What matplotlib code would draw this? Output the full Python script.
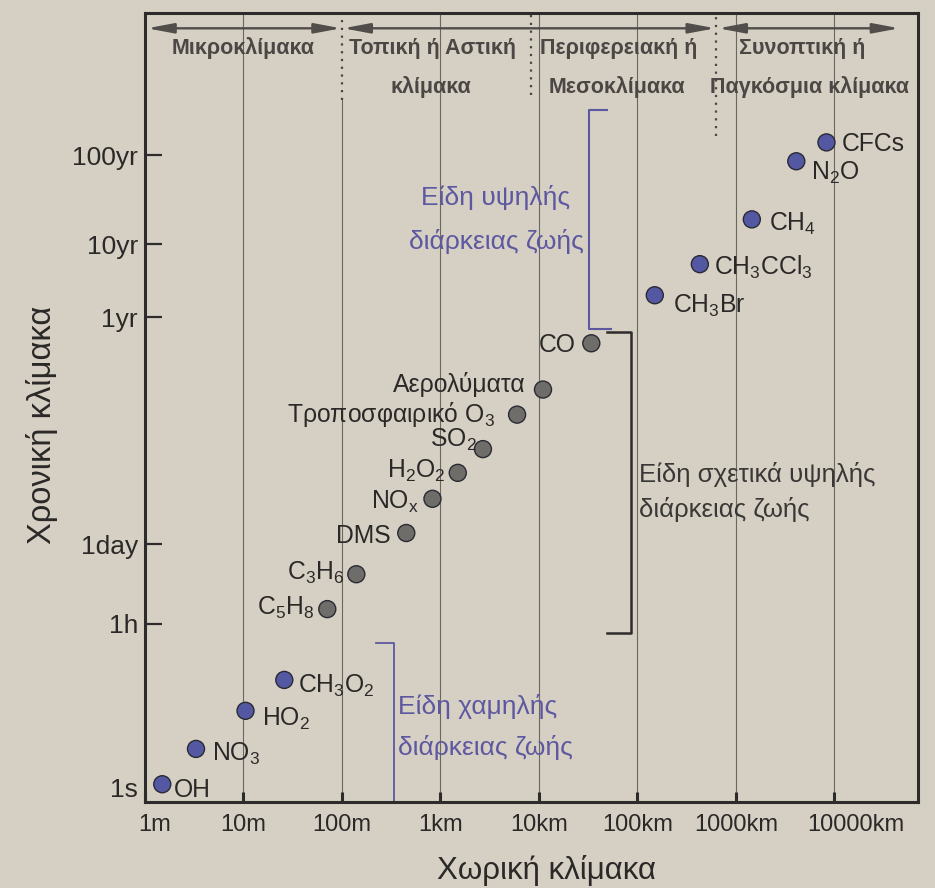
import numpy as np
import matplotlib.pyplot as plt
from matplotlib.transforms import ScaledTranslation

plt.rcParams['font.family'] = ['Liberation Sans', 'DejaVu Sans']
plt.rcParams['mathtext.default'] = 'regular'

# Species: spatial scale (m) and lifetime (s)
species = ['OH', 'NO$_3$', 'HO$_2$', 'CH$_3$O$_2$',
           'C$_5$H$_8$', 'C$_3$H$_6$', 'DMS', 'NO$_x$', 'H$_2$O$_2$', 'SO$_2$',
           'Τροποσφαιρικό O$_3$', 'Αερολύματα', 'CO',
           'CH$_3$Br', 'CH$_3$CCl$_3$', 'CH$_4$', 'N$_2$O', 'CFCs']
space_m = [1.5, 3.3, 10.5, 26,
           71, 140, 450, 830, 1500, 2700,
           6000, 11000, 34000,
           1.5e5, 4.3e5, 1.45e6, 4.1e6, 8.3e6]
life_s = [1.2, 7.0, 47, 220,
          6500, 2.6e4, 1.15e5, 2.8e5, 5.5e5, 1.02e6,
          2.5e6, 4.8e6, 1.6e7,
          6.3e7, 1.68e8, 6.0e8, 2.7e9, 4.4e9]
group = ['short'] * 4 + ['mid'] * 9 + ['long'] * 5

# label placement (pixels from the point) and alignment
label_dx = [12, 16, 16, 14, -13, -12, -16, -14, -12, -6, -22, -17, -16, 18, 14, 17, 15, 15]
label_dy = [-13, -12, -15, -13, -6, -6, -10, -10, -5, 2, -7, -2, -9, -18, -11, -11, -19, -9]

x_ticks = [1, 10, 100, 1e3, 1e4, 1e5, 1e6, 1e7]
x_labels = ['1m', '10m', '100m', '1km', '10km', '100km', '1000km', '10000km']

# time axis is schematic: ticks are not evenly spaced in log time
y_ticks = [1, 3600, 86400, 3.156e7, 3.156e8, 3.156e9]
y_labels = ['1s', '1h', '1day', '1yr', '10yr', '100yr']
y_tick_pos = [14, 178, 258, 485, 558, 647]  # drawing distance from bottom

tl = np.log10(y_ticks)
lo_slope = (y_tick_pos[1] - y_tick_pos[0]) / (tl[1] - tl[0])
hi_slope = (y_tick_pos[-1] - y_tick_pos[-2]) / (tl[-1] - tl[-2])
anc_log = np.concatenate([[tl[0] - 20], tl, [tl[-1] + 20]])
anc_pos = np.concatenate([[y_tick_pos[0] - 20 * lo_slope], y_tick_pos,
                          [y_tick_pos[-1] + 20 * hi_slope]])


def forward(v):
    v = np.clip(np.asarray(v, dtype=float), 1e-30, None)
    return np.interp(np.log10(v), anc_log, anc_pos)


def inverse(p):
    return 10 ** np.interp(p, anc_pos, anc_log)


paper = '#d6cfc4'
ink = '#2e2c2a'
blue = '#5458a2'
grey = '#6f6d69'
purple = '#5d58a0'

fig = plt.figure(figsize=(9.35, 8.88), dpi=100, facecolor=paper)
ax = fig.add_axes([0.155, 0.097, 0.827, 0.888], facecolor=paper)

ax.set_xscale('log')
ax.set_yscale('function', functions=(forward, inverse))
ax.set_xlim(1, 10 ** 7.85)
ax.set_ylim(inverse(0), inverse(789))

# vertical grid
for xt in x_ticks[1:]:
    top = 0.89 if xt == 100 else 1
    ax.axvline(xt, ymax=top, color='#6a6660', lw=0.8, zorder=0)

# scale separators (dotted) and range arrows
sep_x = [100, 10 ** 3.92, 10 ** 5.8]
sep_top = [0.89, 0.896, 0.845]
for xs, yb in zip(sep_x, sep_top):
    ax.axvline(xs, ymin=yb, ymax=1, color='#4a4643', lw=1.6, ls=(0, (1, 2.5)), zorder=1)

xa = ax.get_xaxis_transform()
arrows = [(1.05, 98), (103, 10 ** 5.79), (10 ** 5.82, 10 ** 7.66)]
for x1, x2 in arrows:
    ax.annotate('', xy=(x2, 0.981), xytext=(x1, 0.981), xycoords=xa, textcoords=xa,
                arrowprops=dict(arrowstyle='<|-|>,head_length=1.6,head_width=0.3',
                                color='#504d4a', lw=1.7, shrinkA=0, shrinkB=0))

region_style = dict(xycoords='axes fraction', ha='center', va='center',
                    fontsize=15.5, fontweight='bold', color='#4b4744')
ax.annotate('Μικροκλίμακα', (0.127, 0.956), **region_style)
ax.annotate('Τοπική ή Αστική', (0.372, 0.956), **region_style)
ax.annotate('κλίμακα', (0.370, 0.907), **region_style)
ax.annotate('Περιφερειακή ή', (0.613, 0.956), **region_style)
ax.annotate('Μεσοκλίμακα', (0.610, 0.907), **region_style)
ax.annotate('Συνοπτική ή', (0.850, 0.956), **region_style)
ax.annotate('Παγκόσμια κλίμακα', (0.860, 0.907), **region_style)

# lifetime brackets
af = ax.transAxes
ax.plot([0.598, 0.5746, 0.5746, 0.603], [0.877, 0.877, 0.5995, 0.5995],
        color=purple, lw=1.5, transform=af)
ax.plot([0.598, 0.629, 0.629, 0.598], [0.5957, 0.5957, 0.2142, 0.2142],
        color=ink, lw=1.8, transform=af)
ax.plot([0.2983, 0.3217, 0.3217], [0.2015, 0.2015, 0.0],
        color=purple, lw=1.3, transform=af)

ax.text(0.454, 0.739, 'Είδη υψηλής\nδιάρκειας ζωής', transform=af, ha='center',
        va='center', fontsize=19, color=purple, linespacing=1.95)
ax.text(0.639, 0.393, 'Είδη σχετικά υψηλής\nδιάρκειας ζωής', transform=af, ha='left',
        va='center', fontsize=18.5, color='#3a3836', linespacing=1.5)
ax.text(0.327, 0.095, 'Είδη χαμηλής\nδιάρκειας ζωής', transform=af, ha='left',
        va='center', fontsize=19, color=purple, linespacing=1.82)

# points
colors = [grey if g == 'mid' else blue for g in group]
ax.scatter(space_m, life_s, s=150, c=colors, edgecolors='#2a2a33', linewidths=1.0, zorder=4)

for name, xv, yv, dx, dy in zip(species, space_m, life_s, label_dx, label_dy):
    ax.annotate(name, (xv, yv), xytext=(dx, dy), textcoords='offset pixels',
                ha='left' if dx > 0 else 'right', va='baseline',
                fontsize=17.8, color='#2b2927', zorder=5)

# axes styling
for sp in ax.spines.values():
    sp.set_color(ink)
    sp.set_linewidth(2.2)

ax.set_xticks(x_ticks)
ax.set_xticklabels(x_labels)
ax.minorticks_off()
ax.set_yticks(y_ticks)
ax.set_yticklabels(y_labels)
ax.tick_params(axis='x', direction='in', length=7, width=2.2, color=ink,
               labelsize=17, labelcolor='#2b2927', pad=9)
ax.tick_params(axis='y', direction='in', length=12, width=1.6, color=ink,
               labelsize=19, labelcolor='#2b2927', pad=5)
ax.yaxis.get_major_ticks()[0].tick1line.set_visible(False)

xt_labels = ax.get_xticklabels()
xt_labels[0].set_transform(xt_labels[0].get_transform() +
                           ScaledTranslation(0.1, 0, fig.dpi_scale_trans))
xt_labels[-1].set_transform(xt_labels[-1].get_transform() +
                            ScaledTranslation(0.21, 0, fig.dpi_scale_trans))

ax.set_xlabel('Χωρική κλίμακα', fontsize=22.5, color='#2b2927')
ax.set_ylabel('Χρονική κλίμακα', fontsize=23.5, color='#2b2927')
ax.xaxis.set_label_coords(0.519, -0.067)
ax.yaxis.set_label_coords(-0.112, 0.478)

fig.savefig('out.png', dpi=100, facecolor=paper)
